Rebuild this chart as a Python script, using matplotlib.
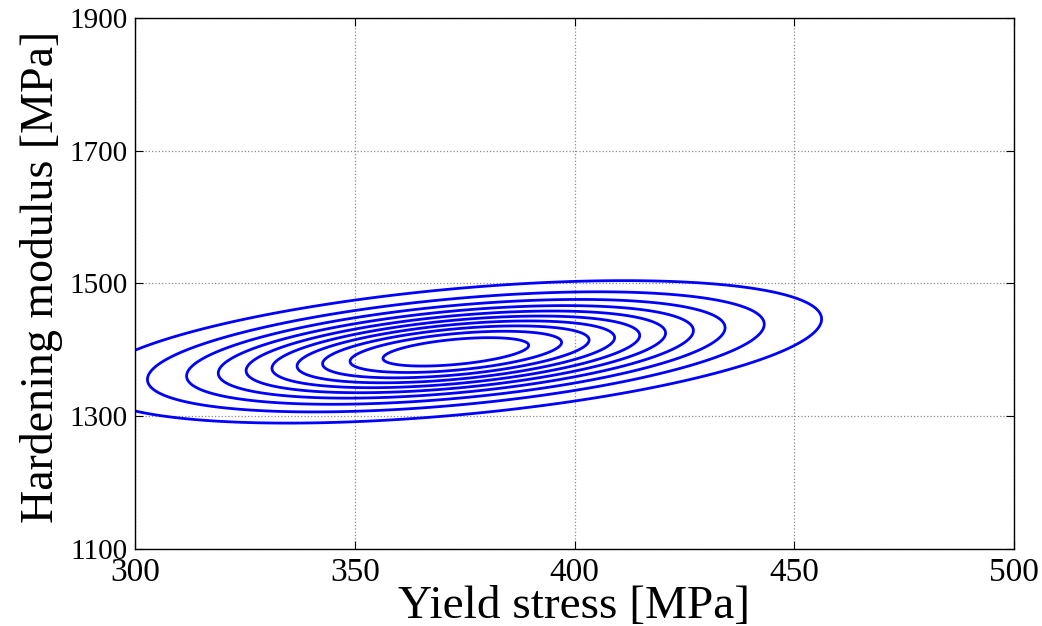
import matplotlib

matplotlib.use('Agg')
import matplotlib.pyplot as plt
import numpy as np

# Параметры двумерного нормального распределения (оценка по рисунку)
mean_yield = 373.0      # МПа
mean_hard = 1397.0      # МПа
std_yield = 38.0
std_hard = 49.0
rho = 0.46

# Уровни изолиний в долях от максимума плотности
level_fracs = [0.0909, 0.1818, 0.2727, 0.3636, 0.4545,
               0.5455, 0.6364, 0.7273, 0.8182, 0.9091]

x_ticks = [300, 350, 400, 450, 500]
y_ticks = [1100, 1300, 1500, 1700, 1900]

plt.rcParams['font.family'] = ['Liberation Serif', 'DejaVu Serif']

# Сетка и плотность
X, Y = np.meshgrid(np.linspace(300, 500, 301), np.linspace(1100, 1900, 601))
zx = (X - mean_yield) / std_yield
zy = (Y - mean_hard) / std_hard
Z = np.exp(-(zx ** 2 - 2 * rho * zx * zy + zy ** 2) / (2 * (1 - rho ** 2)))

fig = plt.figure(figsize=(10.42, 6.26), dpi=100)
ax = fig.add_axes([135 / 1042, 77 / 626, 879 / 1042, 531 / 626])

ax.contour(X, Y, Z, levels=level_fracs, colors=[(0, 0, 1)], linewidths=2.0)

ax.set_xlim(300, 500)
ax.set_ylim(1100, 1900)
ax.set_xticks(x_ticks)
ax.set_yticks(y_ticks)
ax.grid(True, linestyle=':', color='#8c8c8c', linewidth=0.9)
ax.tick_params(direction='in', length=6, width=0.8, top=True, right=True)
ax.tick_params(axis='x', labelsize=24, pad=6)
ax.tick_params(axis='y', labelsize=21, pad=5)
for sp in ax.spines.values():
    sp.set_linewidth(1.0)

ax.set_xlabel('Yield stress [MPa]', fontsize=34)
ax.set_ylabel('Hardening modulus [MPa]', fontsize=33)
ax.xaxis.set_label_coords(0.5, -0.068)
ax.yaxis.set_label_coords(-0.082, 0.513)

plt.savefig('out.png', dpi=100)
